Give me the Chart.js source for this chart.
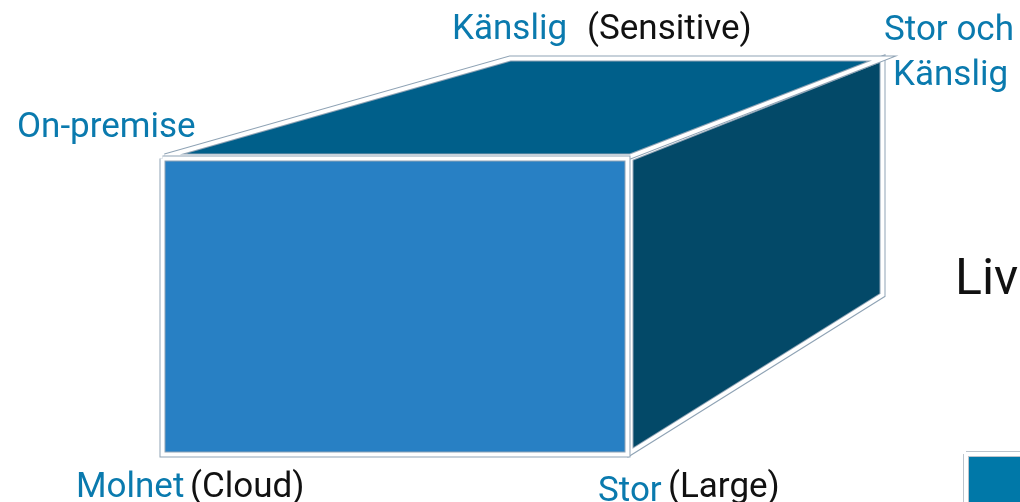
<!DOCTYPE html>
<html>
<head>
<meta charset="utf-8">
<script src="https://cdn.jsdelivr.net/npm/chart.js@4/dist/chart.umd.min.js"></script>
<style>
html, body { margin: 0; padding: 0; background: #fff; overflow: hidden; }
</style>
</head>
<body>
<canvas id="cube" width="1020" height="502"></canvas>
<script>
// box corners, in diagram units (x to the right, y downwards)
var frontX = [162.5, 627.5, 627.5, 162.5, 162.5];
var frontY = [158.5, 158.5, 454.5, 454.5, 158.5];
var topX = [165, 510, 882.5, 630, 165];
var topY = [156.5, 58.5, 58.5, 156.5, 156.5];
var sideX = [630.5, 882.5, 882.5, 630.5, 630.5];
var sideY = [158.5, 58.5, 295, 452.5, 158.5];
var keyX = [966, 1040, 1040, 966, 966];
var keyY = [454, 454, 530, 530, 454];

// axis words (blue) and their translations (black)
var blueWords = ["On-premise", "Känslig", "Stor och", "Känslig", "Molnet", "Stor"];
var blueX = [17, 452, 884, 893, 76, 598];
var blueY = [137, 39, 40, 85, 497, 501];
var blackWords = ["(Sensitive)", "(Cloud)", "(Large)"];
var blackX = [587, 190, 668];
var blackY = [39, 497, 497];
var titleWords = ["Liv"];
var titleX = [955];
var titleY = [294];

function pts(xs, ys) {
    var out = [];
    for (var i = 0; i < xs.length; i++) out.push({x: xs[i], y: ys[i]});
    return out;
}

function face(xs, ys, fillColor, edgeColor, order) {
    return [{
        data: pts(xs, ys),
        backgroundColor: fillColor,
        borderColor: edgeColor,
        borderWidth: 6,
        fill: "shape",
        pointRadius: 0,
        tension: 0,
        order: order
    }, {
        data: pts(xs, ys),
        borderColor: "#ffffff",
        borderWidth: 4,
        fill: false,
        pointRadius: 0,
        tension: 0,
        order: order - 1
    }];
}

var labelPlugin = {
    id: "labels",
    afterDatasetsDraw: function(chart) {
        var ctx = chart.ctx;
        var sx = chart.scales.x, sy = chart.scales.y;
        ctx.save();
        ctx.textBaseline = "alphabetic";
        ctx.textAlign = "left";
        ctx.font = "35px Roboto";
        ctx.fillStyle = "#0a7aae";
        blueWords.forEach(function(w, i) {
            ctx.fillText(w, sx.getPixelForValue(blueX[i]), sy.getPixelForValue(blueY[i]));
        });
        ctx.fillStyle = "#111111";
        blackWords.forEach(function(w, i) {
            ctx.fillText(w, sx.getPixelForValue(blackX[i]), sy.getPixelForValue(blackY[i]));
        });
        ctx.font = "50px Roboto";
        titleWords.forEach(function(w, i) {
            ctx.fillText(w, sx.getPixelForValue(titleX[i]), sy.getPixelForValue(titleY[i]));
        });
        ctx.restore();
    }
};

var datasets = []
    .concat(face(topX, topY, "#005f8a", "#8fa3b5", 20))
    .concat(face(sideX, sideY, "#034968", "#8fa3b5", 30))
    .concat(face(frontX, frontY, "#2880c4", "#8fa3b5", 10))
    .concat(face(keyX, keyY, "#0078a8", "#bcc4cc", 40));

new Chart(document.getElementById("cube").getContext("2d"), {
    type: "line",
    data: { datasets: datasets },
    options: {
        responsive: false,
        animation: false,
        layout: { padding: 0 },
        scales: {
            x: { type: "linear", min: 0, max: 1020, display: false },
            y: { type: "linear", min: 0, max: 502, reverse: true, display: false }
        },
        plugins: {
            legend: { display: false },
            tooltip: { enabled: false }
        }
    },
    plugins: [labelPlugin]
});
</script>
</body>
</html>
